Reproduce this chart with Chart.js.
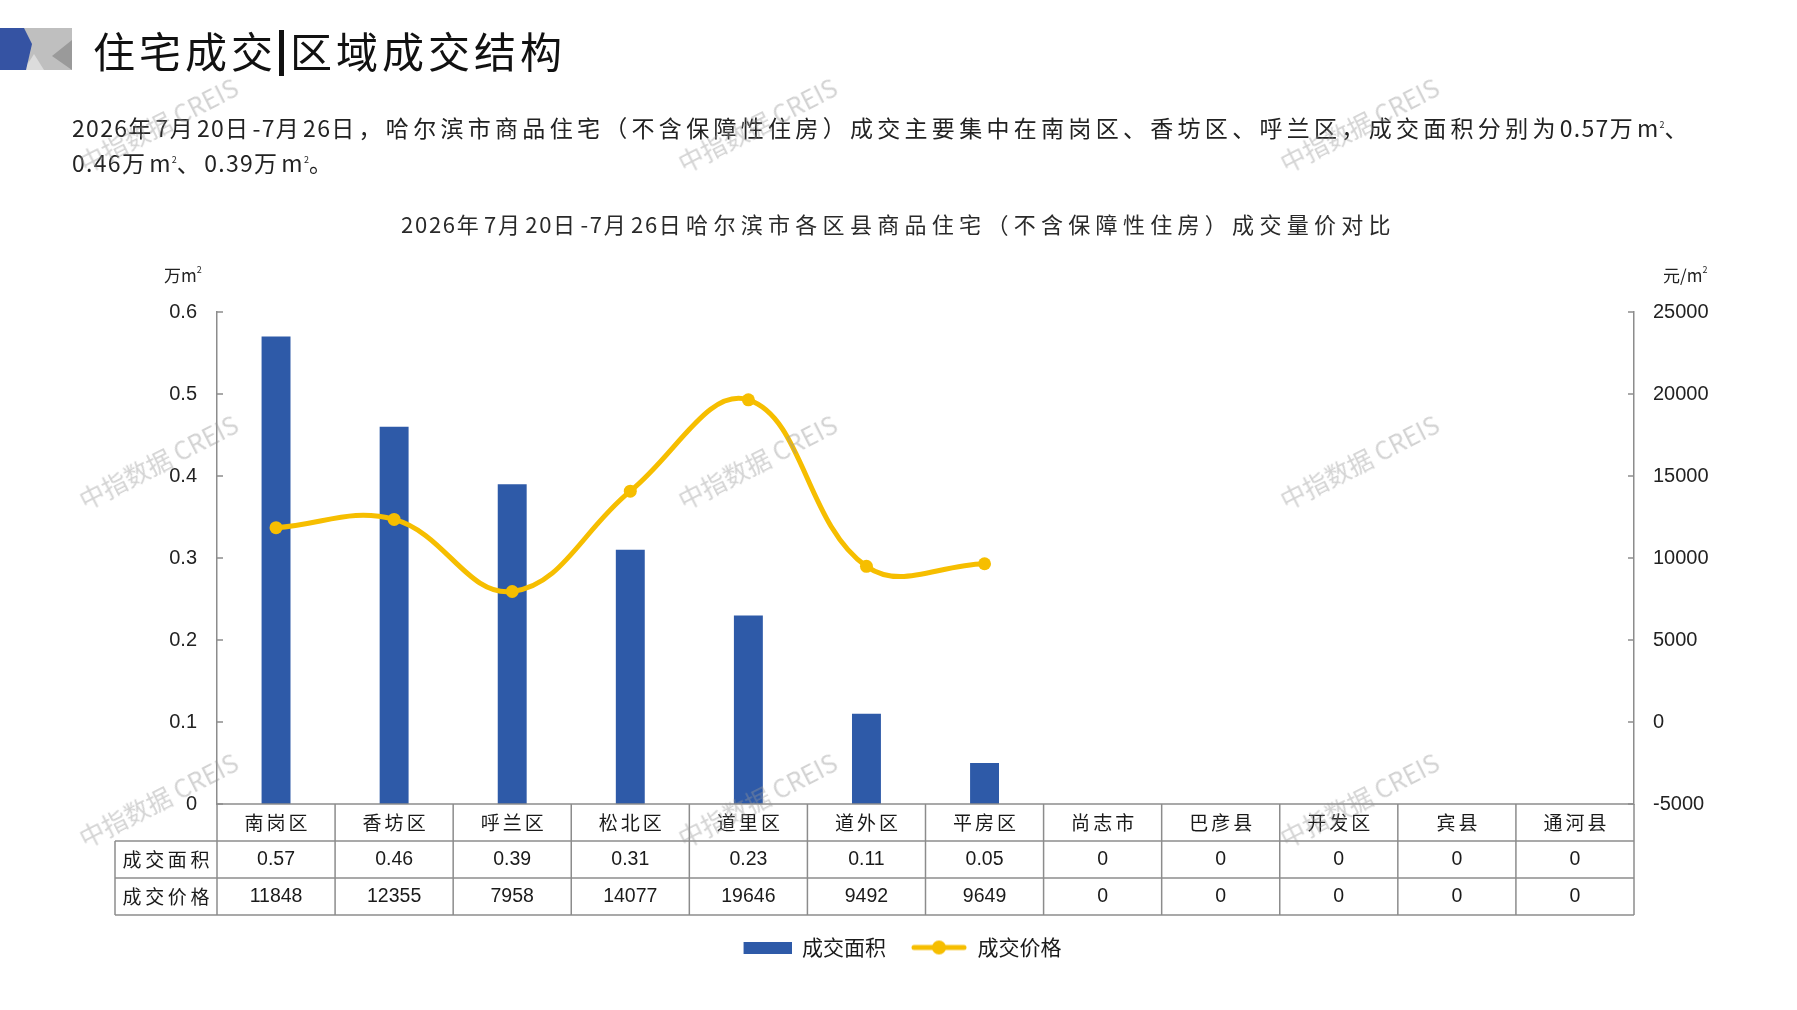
<!DOCTYPE html>
<html lang="zh-CN">
<head>
<meta charset="utf-8">
<script src="https://cdn.jsdelivr.net/npm/chart.js@4.4.1/dist/chart.umd.min.js"></script>
<style>
  html,body{margin:0;padding:0;background:#fff;}
  body{width:1797px;height:1010px;position:relative;overflow:hidden;font-family:"Noto Sans CJK SC","Noto Sans",sans-serif;}
  #chartWrap{position:absolute;left:0;top:0;width:1797px;height:1010px;}
  #logo{position:absolute;left:0;top:28px;}
  #title{position:absolute;left:93px;top:20px;font-size:42px;letter-spacing:4px;color:#111;white-space:nowrap;line-height:60px;}
  #title .bar{display:inline-block;width:5px;height:46px;background:#111;vertical-align:-8px;margin:0 6px 0 2px;}
  #para{position:absolute;left:72px;top:110px;font-size:23px;color:#222;line-height:35px;white-space:nowrap;letter-spacing:4.3px;}
  #para .n{letter-spacing:1.3px;}
  #ctitle{position:absolute;left:0;top:208px;width:1797px;text-align:center;font-size:22px;line-height:30px;letter-spacing:5.3px;color:#2a2a2a;white-space:nowrap;}
  #ctitle .n{letter-spacing:1.7px;}
  .unit{position:absolute;top:262px;font-size:17px;color:#222;white-space:nowrap;}
  .wm{position:absolute;font-size:25px;color:rgba(150,150,150,0.42);white-space:nowrap;transform:translate(-50%,-50%) rotate(-27deg);pointer-events:none;font-family:"Noto Sans CJK SC","Liberation Sans",sans-serif;}
  sup{font-size:9px;vertical-align:9px;line-height:0;letter-spacing:0;}
</style>
</head>
<body>
<div id="chartWrap"><canvas id="c" width="1797" height="1010"></canvas></div>
<svg id="logo" width="74" height="44" viewBox="0 0 74 44">
  <rect x="0" y="0" width="72" height="42" fill="#bfbfbf"/>
  <polygon points="24,42 44,42 34,26" fill="#dcdcdc"/>
  <polygon points="0,42 30,42 24,14" fill="#dcdcdc"/>
  <polygon points="72,12 72,42 52,28" fill="#9a9a9a"/>
  <polygon points="0,0 24,0 32,16 26,42 0,42" fill="#3553a3"/>
</svg>
<div id="title">住宅成交<span class="bar"></span>区域成交结构</div>
<div id="para"><span class="n">2026</span>年<span class="n">7</span>月<span class="n">20</span>日<span class="n">-7</span>月<span class="n">26</span>日，哈尔滨市商品住宅（不含保障性住房）成交主要集中在南岗区、香坊区、呼兰区，成交面积分别为<span class="n">0.57</span>万<span class="n">m</span><sup>2</sup>、<br><span class="n">0.46</span>万<span class="n">m</span><sup>2</sup>、<span class="n">0.39</span>万<span class="n">m</span><sup>2</sup>。</div>
<div id="ctitle"></div>
<div class="unit" style="left:164px;">万m<sup>2</sup></div>
<div class="unit" style="left:1663px;">元/m<sup>2</sup></div>

<div class="wm" style="left:158px;top:124px;">中指数据 CREIS</div>
<div class="wm" style="left:757px;top:124px;">中指数据 CREIS</div>
<div class="wm" style="left:1359px;top:124px;">中指数据 CREIS</div>
<div class="wm" style="left:158px;top:461px;">中指数据 CREIS</div>
<div class="wm" style="left:757px;top:461px;">中指数据 CREIS</div>
<div class="wm" style="left:1359px;top:461px;">中指数据 CREIS</div>
<div class="wm" style="left:158px;top:799px;">中指数据 CREIS</div>
<div class="wm" style="left:757px;top:799px;">中指数据 CREIS</div>
<div class="wm" style="left:1359px;top:799px;">中指数据 CREIS</div>

<script>
// ---- data ----
const categories = ['南岗区','香坊区','呼兰区','松北区','道里区','道外区','平房区','尚志市','巴彦县','开发区','宾县','通河县'];
const areaValues = [0.57,0.46,0.39,0.31,0.23,0.11,0.05,0,0,0,0,0];
const priceValues = [11848,12355,7958,14077,19646,9492,9649,0,0,0,0,0];
const seriesNames = ['成交面积','成交价格'];
const chartTitle = '2026年7月20日-7月26日哈尔滨市各区县商品住宅（不含保障性住房）成交量价对比';

// chart title: digits get tighter spacing than CJK characters
(function(){
  const el = document.getElementById('ctitle');
  chartTitle.split(/([0-9\-]+)/).forEach(part=>{
    if (!part) return;
    if (/^[0-9\-]+$/.test(part)) { const s=document.createElement('span'); s.className='n'; s.textContent=part; el.appendChild(s); }
    else el.appendChild(document.createTextNode(part));
  });
})();

// ---- styles ----
const BLUE = '#2e5aa8';
const GOLD = '#f6be00';
const AXIS = '#8c8c8c';
const CJK = '"Noto Sans CJK SC","Noto Sans",sans-serif';
const NUM = '"Liberation Sans","Noto Sans",sans-serif';

// legend symbols
const barImg = document.createElement('canvas');
barImg.width = 56; barImg.height = 12;
(function(){const g=barImg.getContext('2d');g.fillStyle=BLUE;g.fillRect(8,0,48,12);})();
const lineImg = document.createElement('canvas');
lineImg.width = 56; lineImg.height = 16;
(function(){const g=lineImg.getContext('2d');g.strokeStyle=GOLD;g.lineWidth=5;g.lineCap='round';
  g.beginPath();g.moveTo(3,8);g.lineTo(53,8);g.stroke();
  g.fillStyle=GOLD;g.beginPath();g.arc(28,8,7,0,Math.PI*2);g.fill();})();

const innerTicks = {
  id:'innerTicks',
  afterDraw(chart){
    const {ctx, chartArea:a, scales} = chart;
    ctx.save();
    ctx.strokeStyle = AXIS; ctx.lineWidth = 1.5;
    scales.y.ticks.forEach(t=>{const p=scales.y.getPixelForValue(t.value);ctx.beginPath();ctx.moveTo(a.left,p);ctx.lineTo(a.left+6,p);ctx.stroke();});
    scales.y1.ticks.forEach(t=>{const p=scales.y1.getPixelForValue(t.value);ctx.beginPath();ctx.moveTo(a.right-6,p);ctx.lineTo(a.right,p);ctx.stroke();});
    ctx.restore();
  }
};

const dataTable = {
  id:'dataTable',
  afterDraw(chart){
    const {ctx, chartArea:a, scales:{x}} = chart;
    const rowH = 37;
    const headLeft = 115;
    const half = (x.getPixelForValue(1) - x.getPixelForValue(0)) / 2;
    const top = a.bottom;
    ctx.save();
    ctx.strokeStyle = AXIS; ctx.lineWidth = 1.5;
    ctx.beginPath(); ctx.moveTo(a.left, top); ctx.lineTo(a.right, top); ctx.stroke();
    for (let r=1;r<=3;r++){ctx.beginPath();ctx.moveTo(headLeft, top+r*rowH);ctx.lineTo(a.right, top+r*rowH);ctx.stroke();}
    ctx.beginPath(); ctx.moveTo(headLeft, top+rowH); ctx.lineTo(headLeft, top+3*rowH); ctx.stroke();
    categories.forEach((c,i)=>{const xl=x.getPixelForValue(i)-half;ctx.beginPath();ctx.moveTo(xl,top);ctx.lineTo(xl,top+3*rowH);ctx.stroke();});
    ctx.beginPath(); ctx.moveTo(a.right, top); ctx.lineTo(a.right, top+3*rowH); ctx.stroke();
    ctx.fillStyle = '#1a1a1a'; ctx.textAlign='center'; ctx.textBaseline='middle';
    ctx.font = '19px ' + CJK;
    let ls = 3;
    ctx.letterSpacing = ls + 'px';
    categories.forEach((c,i)=>{ctx.fillText(c, x.getPixelForValue(i) + ls/2, top+rowH/2);});
    ls = 3.6;
    ctx.letterSpacing = ls + 'px';
    seriesNames.forEach((s,r)=>{ctx.fillText(s, (headLeft+a.left)/2 + ls/2, top+rowH*(r+1.5));});
    ctx.letterSpacing = '0px';
    ctx.font = '19.5px ' + NUM;
    areaValues.forEach((v,i)=>ctx.fillText(String(v), x.getPixelForValue(i), top+rowH*1.5));
    priceValues.forEach((v,i)=>ctx.fillText(String(v), x.getPixelForValue(i), top+rowH*2.5));
    ctx.restore();
  }
};

new Chart(document.getElementById('c'), {
  data: {
    labels: categories,
    datasets: [
      { type:'bar', label: seriesNames[0], data: areaValues, yAxisID:'y', backgroundColor: BLUE,
        categoryPercentage: 1.0, barPercentage: 0.245, order: 2 },
      { type:'line', label: seriesNames[1], data: priceValues.map(v => v > 0 ? v : null), yAxisID:'y1',
        borderColor: GOLD, backgroundColor: GOLD, borderWidth: 5, tension: 0.4,
        pointRadius: 6.5, pointHoverRadius: 6.5, pointBackgroundColor: GOLD, pointBorderWidth: 0,
        spanGaps: false, order: 1 }
    ]
  },
  options: {
    responsive: false,
    animation: false,
    devicePixelRatio: 1,
    layout: { padding: { top: 312, bottom: 42, left: 0, right: 0 } },
    plugins: {
      title: { display: false },
      legend: { position:'bottom', labels: { usePointStyle: true, pointStyleWidth: 56, color:'#1a1a1a', font:{ family: CJK, size: 21 }, padding: 25,
        generateLabels(chart){
          const items = Chart.defaults.plugins.legend.labels.generateLabels(chart);
          items.sort((p,q)=>p.datasetIndex-q.datasetIndex);
          items.forEach(it=>{ it.pointStyle = it.datasetIndex===0 ? barImg : lineImg; });
          return items;
        } } },
      tooltip: { enabled:false }
    },
    scales: {
      x: { grid:{ display:false }, border:{ display:false }, ticks:{ display:false },
           afterFit(s){ s.height = 108; } },
      y: { position:'left', min:0, max:0.6, grid:{ display:false, drawTicks:false }, border:{ display:true, color:AXIS, width:1.5 },
           ticks:{ stepSize:0.1, padding:20, color:'#222', font:{ family: NUM, size:20 }, callback:v=> v===0 ? '0' : Number(v).toFixed(1) },
           afterFit(s){ s.width = 217; } },
      y1:{ position:'right', min:-5000, max:25000, grid:{ display:false, drawTicks:false }, border:{ display:true, color:AXIS, width:1.5 },
           ticks:{ stepSize:5000, padding:19, color:'#222', font:{ family: NUM, size:20 }, callback:v=> String(v) },
           afterFit(s){ s.width = 163; } }
    }
  },
  plugins: [innerTicks, dataTable]
});
</script>
</body>
</html>
